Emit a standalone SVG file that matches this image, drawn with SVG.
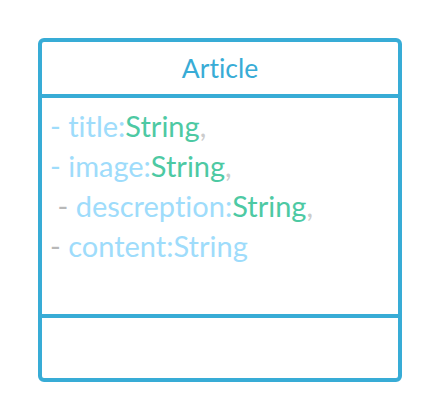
<svg xmlns="http://www.w3.org/2000/svg" width="440" height="420" viewBox="0 0 440 420">
<style>
.box{fill:#fff;stroke:#38acd6;stroke-width:4}
.sep{stroke:#38acd6;stroke-width:4}
.t{font-family:Lato,"Liberation Sans",sans-serif;font-variant-ligatures:none}
.title{font-size:26.5px;fill:#38acd6}
.attr{font-size:29px;fill:#9edcfb}
.g{fill:#4dc9a3}
.c{fill:#cccccc}
.d{fill:#b8b8b8}
</style>
<g id="Article">
<rect class="box" x="40" y="40" width="360" height="340" rx="4"/>
<line class="sep" x1="40" y1="96" x2="400" y2="96"/>
<line class="sep" x1="40" y1="316" x2="400" y2="316"/>
<text class="t title" x="220" y="78" text-anchor="middle">Article</text>
<text class="t attr" x="50" y="137">- title:<tspan class="g">String</tspan><tspan class="c">,</tspan></text>
<text class="t attr" x="50" y="177">- image:<tspan class="g">String</tspan><tspan class="c">,</tspan></text>
<text class="t attr" x="50" y="217" xml:space="preserve"> <tspan class="d">-</tspan> descreption:<tspan class="g">String</tspan><tspan class="c">,</tspan></text>
<text class="t attr" x="50" y="257"><tspan class="d">-</tspan> content:String</text>
</g>
</svg>
